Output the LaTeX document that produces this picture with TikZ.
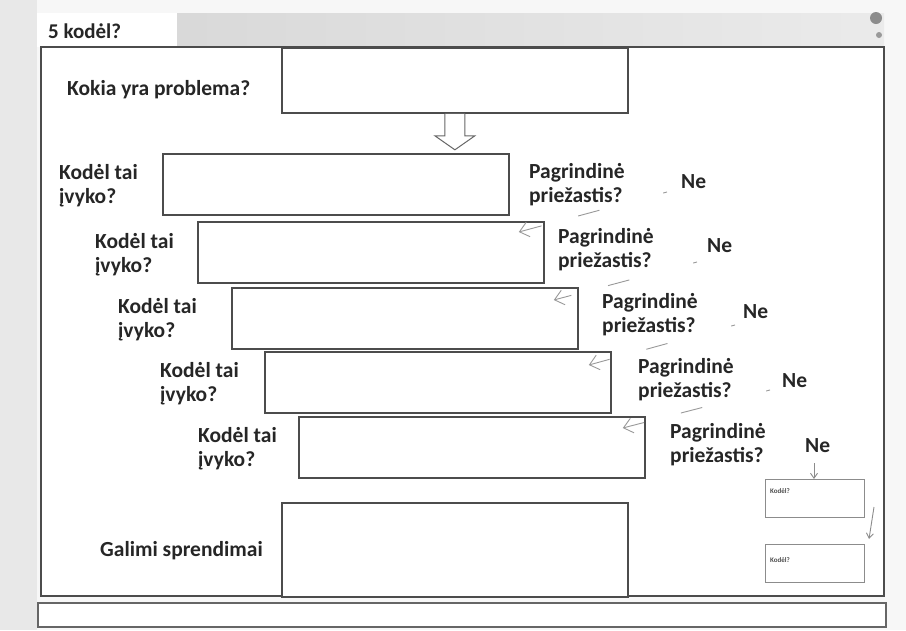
\documentclass[tikz,border=0pt]{standalone}
\usepackage{fontspec}
\setmainfont{Carlito}
\usetikzlibrary{arrows.meta,calc}
\begin{document}
\begin{tikzpicture}[x=1pt,y=-1pt,
  frame/.style={draw=black!70,line width=1.8pt},
  box/.style={draw=black!70,line width=1.8pt,fill=white,anchor=north west,minimum width=346pt,minimum height=61pt,inner sep=0pt},
  lab/.style={font=\bfseries\fontsize{21.5}{24}\selectfont,text=black!85,align=left,anchor=west,inner sep=0pt},
  one/.style={font=\bfseries\fontsize{21.5}{24}\selectfont,text=black!85,anchor=base west,inner sep=0pt},
  small/.style={draw=black!45,line width=1pt,fill=white,anchor=north west,minimum width=99pt,minimum height=38pt,inner sep=0pt},
  tiny/.style={font=\bfseries\fontsize{7}{8}\selectfont,text=black!70,anchor=west,inner sep=0pt},
  hand/.style={draw=black!40,line width=0.9pt,dash pattern=on 4pt off 66pt on 22pt off 38pt on 60pt,-{Straight Barb[length=9pt,width=15pt,line width=0.9pt]}},
  handsolid/.style={draw=black!45,line width=0.9pt,-{Straight Barb[length=5pt,width=7pt,line width=0.9pt]}}]
\useasboundingbox (0,0) rectangle (906,630);
\fill[black!3] (0,0) rectangle (906,630);
\fill[black!9] (0,0) rectangle (37,630);
% top band
\shade[left color=black!15,right color=black!8] (177,13) rectangle (884,47);
\fill[white] (37,13) rectangle (177,47);
\node[one,font=\bfseries\fontsize{21}{24}\selectfont] (title) at (48,38) {5 kodėl?};
\fill[black!45] (876,18) circle (6pt);
\fill[black!40] (879,35) circle (3pt);
% main frame
\draw[frame,fill=white] (41,47) rectangle (884,596);
\draw[frame,draw=black!60,fill=white] (38,603) rectangle (886,627);
% problem
\node[box,minimum height=65pt] (prob) at (281,47) {};
\node[one] (problab) at (67,95) {Kokia yra problema?};
% why boxes
\node[box] (w1) at (162,153) {};
\node[box] (w2) at (197,221) {};
\node[box] (w3) at (231,287) {};
\node[box] (w4) at (264,351) {};
\node[box] (w5) at (298,416) {};
% hollow arrow
\draw[draw=black!60,line width=1pt,fill=white]
  ($(prob.south)+(-10,0)$) -- ++(0,22) -- ++(-10,0) -- ($(prob.south)+(0,36)$)
  -- ($(prob.south)+(20,22)$) -- ++(-10,0) -- ($(prob.south)+(10,0)$);
% left labels
\node[lab] (k1) at (59,186) {Kodėl tai\\įvyko?};
\node[lab] (k2) at (95,255) {Kodėl tai\\įvyko?};
\node[lab] (k3) at (118,320) {Kodėl tai\\įvyko?};
\node[lab] (k4) at (160,384) {Kodėl tai\\įvyko?};
\node[lab] (k5) at (198,449) {Kodėl tai\\įvyko?};
% right labels
\node[lab] (p1) at (529,185) {Pagrindinė\\priežastis?};
\node[lab] (p2) at (558,250) {Pagrindinė\\priežastis?};
\node[lab] (p3) at (602,315) {Pagrindinė\\priežastis?};
\node[lab] (p4) at (638,380) {Pagrindinė\\priežastis?};
\node[lab] (p5) at (670,445) {Pagrindinė\\priežastis?};
% Ne
\node[one] (n1) at (681,188) {Ne};
\node[one] (n2) at (707,252) {Ne};
\node[one] (n3) at (743,318) {Ne};
\node[one] (n4) at (782,387) {Ne};
\node[one] (n5) at (805,452) {Ne};
% small boxes
\node[small] (s1) at (765,479) {};
\node[small] (s2) at (765,544) {};
\node[tiny] at ($(s1.north west)+(5,12)$) {Kodėl?};
\node[tiny] at ($(s2.north west)+(5,16)$) {Kodėl?};
% connector end points
\coordinate (t2) at ($(w2.north east)+(-26,11)$);
\coordinate (t3) at ($(w3.north east)+(-25,13)$);
\coordinate (t4) at ($(w4.north east)+(-23,14)$);
\coordinate (t5) at ($(w5.north east)+(-23,12)$);
\coordinate (a1) at ($(n1.base west)+(-14,4)$);
\coordinate (a2) at ($(n2.base west)+(-10,10)$);
\coordinate (a3) at ($(n3.base west)+(-8,7)$);
\coordinate (a4) at ($(n4.base west)+(-12,3)$);
\coordinate (a5) at ($(n5.base west)+(9,11)$);
\coordinate (b1) at ($(s1.north east)+(9,28)$);
\coordinate (b2) at ($(s2.north east)+(4,-5)$);
\draw[hand] (a1) -- (t2);
\draw[hand] (a2) -- (t3);
\draw[hand] (a3) -- (t4);
\draw[hand] (a4) -- (t5);
\draw[handsolid] (a5) -- (s1.north-|a5);
\draw[handsolid] (b1) -- (b2);
% solutions
\node[box,minimum height=94pt] (sol) at (281,502) {};
\node[one] (sollab) at (100,556) {Galimi sprendimai};
\end{tikzpicture}
\end{document}
